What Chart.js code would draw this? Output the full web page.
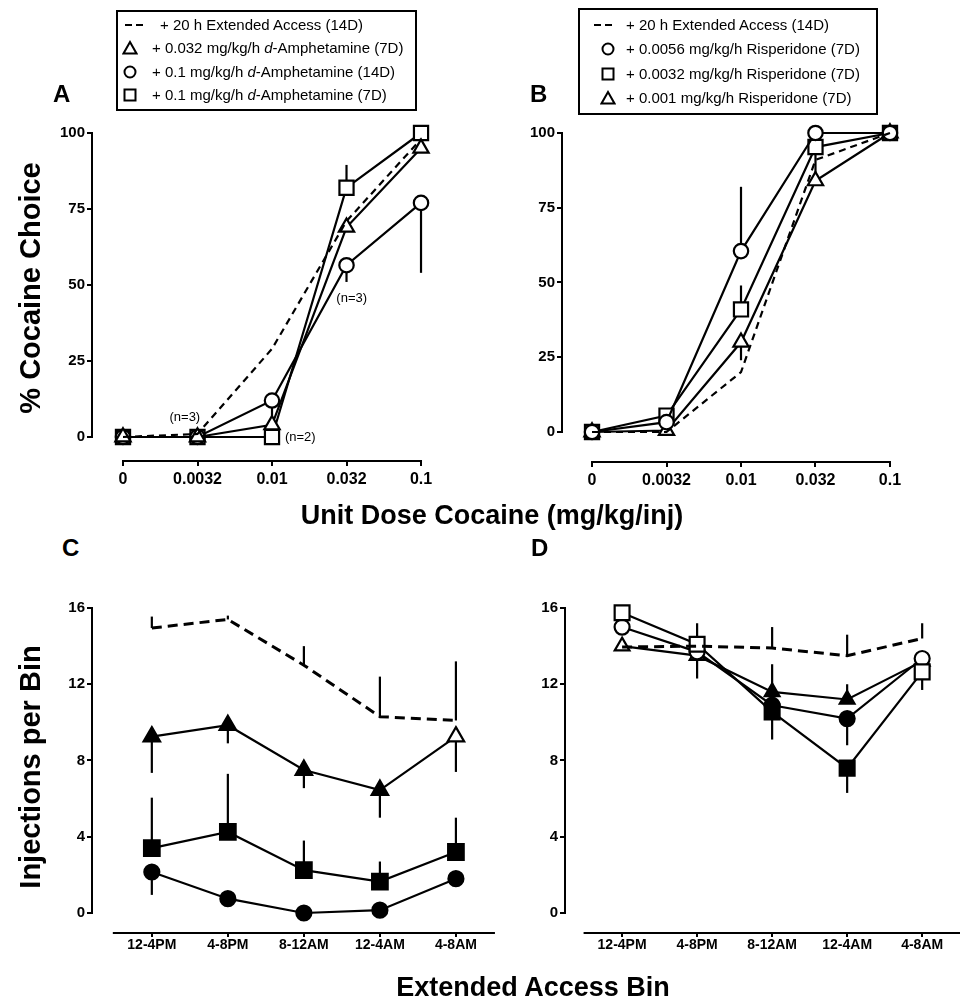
<!DOCTYPE html>
<html>
<head>
<meta charset="utf-8">
<script src="https://cdn.jsdelivr.net/npm/chart.js@4.4.1/dist/chart.umd.min.js"></script>
<style>
  body { margin: 0; background: #fff; font-family: 'Liberation Sans', Arial, sans-serif; color: #000; }
  #page { position: relative; width: 960px; height: 1000px; overflow: hidden; }
  canvas { position: absolute; }
  .lbl { position: absolute; font-weight: bold; font-size: 24px; line-height: 24px; }
  .title { position: absolute; font-weight: bold; font-size: 27px; white-space: nowrap; transform: translate(-50%, -50%); }
  .ytitle { font-size: 29px; transform: translate(-50%, -50%) rotate(-90deg); }
  .box { position: absolute; border: 2px solid #000; box-sizing: border-box; }
  .txt { position: absolute; font-size: 15px; line-height: 18px; white-space: nowrap; }
  .sym { position: absolute; }
</style>
</head>
<body>
<div id="page">
  <canvas id="chartA" width="480" height="430" style="left:0;top:100px"></canvas>
  <canvas id="chartB" width="480" height="430" style="left:480px;top:100px"></canvas>
  <canvas id="chartC" width="525" height="430" style="left:0;top:570px"></canvas>
  <canvas id="chartD" width="470" height="430" style="left:490px;top:570px"></canvas>

  <div class="lbl" style="left:53px;top:82px">A</div>
  <div class="lbl" style="left:530px;top:82px">B</div>
  <div class="lbl" style="left:62px;top:536px">C</div>
  <div class="lbl" style="left:531px;top:536px">D</div>

  <div class="title ytitle" style="left:30px;top:288px">% Cocaine Choice</div>
  <div class="title ytitle" style="left:30px;top:767px">Injections per Bin</div>
  <div class="title" style="left:492px;top:515px">Unit Dose Cocaine (mg/kg/inj)</div>
  <div class="title" style="left:533px;top:987px">Extended Access Bin</div>

  <!-- legend A -->
  <div class="box" style="left:116px;top:10px;width:301px;height:101px"></div>
  <svg class="sym" style="left:124px;top:23px" width="20" height="4"><line x1="1" y1="2" x2="8" y2="2" stroke="#000" stroke-width="2"/><line x1="12" y1="2" x2="19" y2="2" stroke="#000" stroke-width="2"/></svg>
  <div class="txt" style="left:160px;top:16px">+ 20 h Extended Access (14D)</div>
  <svg class="sym" style="left:122px;top:40px" width="16" height="16"><polygon points="8,2 14.5,13.5 1.5,13.5" fill="#fff" stroke="#000" stroke-width="2"/></svg>
  <div class="txt" style="left:152px;top:39px">+ 0.032 mg/kg/h <i>d</i>-Amphetamine (7D)</div>
  <svg class="sym" style="left:122px;top:64px" width="16" height="16"><circle cx="8" cy="8" r="5.5" fill="#fff" stroke="#000" stroke-width="2"/></svg>
  <div class="txt" style="left:152px;top:63px">+ 0.1 mg/kg/h <i>d</i>-Amphetamine (14D)</div>
  <svg class="sym" style="left:122px;top:87px" width="16" height="16"><rect x="2.5" y="2.5" width="11" height="11" fill="#fff" stroke="#000" stroke-width="2"/></svg>
  <div class="txt" style="left:152px;top:86px">+ 0.1 mg/kg/h <i>d</i>-Amphetamine (7D)</div>

  <!-- legend B -->
  <div class="box" style="left:578px;top:8px;width:300px;height:107px"></div>
  <svg class="sym" style="left:593px;top:23px" width="20" height="4"><line x1="1" y1="2" x2="8" y2="2" stroke="#000" stroke-width="2"/><line x1="12" y1="2" x2="19" y2="2" stroke="#000" stroke-width="2"/></svg>
  <div class="txt" style="left:626px;top:16px">+ 20 h Extended Access (14D)</div>
  <svg class="sym" style="left:600px;top:41px" width="16" height="16"><circle cx="8" cy="8" r="5.5" fill="#fff" stroke="#000" stroke-width="2"/></svg>
  <div class="txt" style="left:626px;top:40px">+ 0.0056 mg/kg/h Risperidone (7D)</div>
  <svg class="sym" style="left:600px;top:66px" width="16" height="16"><rect x="2.5" y="2.5" width="11" height="11" fill="#fff" stroke="#000" stroke-width="2"/></svg>
  <div class="txt" style="left:626px;top:65px">+ 0.0032 mg/kg/h Risperidone (7D)</div>
  <svg class="sym" style="left:600px;top:90px" width="16" height="16"><polygon points="8,2 14.5,13.5 1.5,13.5" fill="#fff" stroke="#000" stroke-width="2"/></svg>
  <div class="txt" style="left:626px;top:89px">+ 0.001 mg/kg/h Risperidone (7D)</div>
</div>

<script>
// categories and ticks
const doseLabels = ['0', '0.0032', '0.01', '0.032', '0.1'];
const binLabels = ['12-4PM', '4-8PM', '8-12AM', '12-4AM', '4-8AM'];
const pctTicks = [0, 25, 50, 75, 100];
const injTicks = [0, 4, 8, 12, 16];

// A - % cocaine choice, amphetamine
const eaA = [0, 1, 29, 71, 98];
const amph032A = [0, 0, 4, 69, 95];
const amph1d14A = [0, 0, 12, 56.5, 77];
const amph1d7A = [0, 0, 0, 82, 100];
const amph1d14AErr = [null, null, -6.5, -5.5, -23];
const amph1d7AErr = [null, null, null, 7.5, null];

// B - % cocaine choice, risperidone
const eaB = [0, 0, 20, 91, 100];
const risp0056B = [0, 3.3, 60.5, 100, 100];
const risp0032B = [0, 5.5, 41, 95.3, 100];
const risp001B = [0, 0.5, 30, 84, 100];
const risp0056BErr = [null, null, 21.5, null, null];
const risp0032BErr = [null, null, 8, null, null];
const risp001BErr = [null, null, -6, 9, null];

// C - injections per bin, amphetamine
const eaC = [14.95, 15.4, 13.0, 10.3, 10.1];
const eaCErr = [0.6, 0.2, 1.0, 2.1, 3.1];
const amph032C = [9.25, 9.85, 7.5, 6.45, 9.25];
const amph032CErr = [-1.9, -0.95, -0.95, -1.45, -1.85];
const amph1d7C = [3.4, 4.25, 2.25, 1.65, 3.2];
const amph1d7CErr = [2.65, 3.05, 1.55, 1.05, 1.8];
const amph1d14C = [2.15, 0.75, 0, 0.15, 1.8];
const amph1d14CErr = [-1.2, -0.4, null, null, null];

// D - injections per bin, risperidone
const eaD = [13.95, 14.0, 13.9, 13.5, 14.4];
const eaDErr = [null, null, 1.1, 1.1, 0.8];
const risp0032D = [15.75, 14.1, 10.55, 7.6, 12.65];
const risp0032DErr = [null, 1.1, -1.45, -1.3, -0.95];
const risp0056D = [15.0, 13.7, 10.9, 10.2, 13.35];
const risp0056DErr = [null, null, null, -1.4, null];
const risp001D = [14.0, 13.5, 11.6, 11.2, 13.2];
const risp001DErr = [null, -1.2, 1.45, 0.8, null];

Chart.defaults.font.family = "'Liberation Sans', Arial, sans-serif";
Chart.defaults.color = '#000';

function series(values, err, style) {
  return Object.assign({
    data: values.map((y, x) => ({ x, y })),
    err: err,
    borderColor: '#000',
    borderWidth: 2.2,
    tension: 0,
    pointBorderColor: '#000',
    pointBorderWidth: 2.2,
    pointBackgroundColor: '#fff',
    clip: false
  }, style);
}

function makeChart(id, o) {
  const errorBars = {
    id: 'errorBars',
    beforeDatasetsDraw(chart) {
      const { ctx, scales: { x, y } } = chart;
      ctx.save();
      ctx.lineWidth = 2.2;
      ctx.strokeStyle = '#000';
      chart.data.datasets.forEach(ds => {
        if (!ds.err) return;
        ds.err.forEach((e, i) => {
          if (e == null) return;
          const v = ds.data[i].y;
          const px = x.getPixelForValue(i);
          ctx.beginPath();
          ctx.moveTo(px, y.getPixelForValue(v));
          ctx.lineTo(px, y.getPixelForValue(v + e));
          ctx.stroke();
        });
      });
      ctx.restore();
    }
  };
  // detached prism style axes
  const axes = {
    id: 'prismAxes',
    afterDraw(chart) {
      const { ctx, chartArea, scales: { x, y } } = chart;
      ctx.save();
      ctx.lineWidth = 2;
      ctx.strokeStyle = '#000';
      ctx.beginPath();
      ctx.moveTo(chartArea.left, y.getPixelForValue(o.yTicks[0]) + 1);
      ctx.lineTo(chartArea.left, y.getPixelForValue(o.yTicks[o.yTicks.length - 1]) - 1);
      ctx.moveTo(x.getPixelForValue(o.axisX[0]) - 1, chartArea.bottom);
      ctx.lineTo(x.getPixelForValue(o.axisX[1]) + 1, chartArea.bottom);
      ctx.stroke();
      ctx.restore();
    }
  };
  const notes = {
    id: 'notes',
    afterDatasetsDraw(chart) {
      const { ctx, scales: { x, y } } = chart;
      ctx.save();
      ctx.font = "13px 'Liberation Sans', Arial, sans-serif";
      ctx.fillStyle = '#000';
      ctx.textAlign = 'center';
      ctx.textBaseline = 'middle';
      (o.notes || []).forEach(n => ctx.fillText(n.text, x.getPixelForValue(n.x), y.getPixelForValue(n.y)));
      ctx.restore();
    }
  };
  const grid = { drawOnChartArea: false, tickLength: 5, lineWidth: 2, color: '#000' };
  return new Chart(document.getElementById(id), {
    type: 'line',
    data: { datasets: o.datasets },
    options: {
      responsive: false,
      animation: false,
      devicePixelRatio: 1,
      layout: { padding: o.pad },
      plugins: { legend: { display: false }, tooltip: { enabled: false } },
      scales: {
        x: {
          type: 'linear', min: o.xMin, max: o.xMax,
          afterBuildTicks: s => { s.ticks = o.xLabels.map((_, i) => ({ value: i })); },
          afterFit: s => { s.height = o.xH; },
          ticks: { callback: v => o.xLabels[v], font: o.xFont, color: '#000', padding: o.xPad, maxRotation: 0, autoSkip: false },
          grid: Object.assign({}, grid, { tickLength: o.xTick }),
          border: { display: false }
        },
        y: {
          min: o.yMin, max: o.yMax,
          afterBuildTicks: s => { s.ticks = o.yTicks.map(v => ({ value: v })); },
          afterFit: s => { s.width = o.yW; },
          ticks: { font: { size: 15, weight: 'bold' }, color: '#000', padding: 2, autoSkip: false },
          grid: grid,
          border: { display: false }
        }
      }
    },
    plugins: [errorBars, axes, notes]
  });
}

const dashAB = { pointRadius: 0, borderDash: [7, 5] };
const dashCD = { pointRadius: 0, borderDash: [10, 6], borderWidth: 3 };

makeChart('chartA', {
  xLabels: doseLabels, yTicks: pctTicks,
  xMin: -0.416, xMax: 4.389, yMin: -7.9, yMax: 103.95,
  yW: 92, xH: 40, xTick: 5, xPad: 4, xFont: { size: 16, weight: 'bold' },
  pad: { top: 21, bottom: 29, left: 0, right: 30 },
  axisX: [0, 4],
  notes: [{ text: '(n=3)', x: 0.83, y: 6.6 }, { text: '(n=2)', x: 2.38, y: 0 }, { text: '(n=3)', x: 3.07, y: 45.7 }],
  datasets: [
    series(eaA, null, dashAB),
    series(amph032A, null, { pointStyle: 'triangle', pointRadius: 8.8 }),
    series(amph1d14A, amph1d14AErr, { pointStyle: 'circle', pointRadius: 7.2 }),
    series(amph1d7A, amph1d7AErr, { pointStyle: 'rect', pointRadius: 10 })
  ]
});

makeChart('chartB', {
  xLabels: doseLabels, yTicks: pctTicks,
  xMin: -0.403, xMax: 4.403, yMin: -10.03, yMax: 104.01,
  yW: 82, xH: 40, xTick: 5, xPad: 4, xFont: { size: 16, weight: 'bold' },
  pad: { top: 21, bottom: 28, left: 0, right: 40 },
  axisX: [0, 4],
  datasets: [
    series(eaB, null, dashAB),
    series(risp0056B, risp0056BErr, { pointStyle: 'circle', pointRadius: 7.2 }),
    series(risp0032B, risp0032BErr, { pointStyle: 'rect', pointRadius: 10 }),
    series(risp001B, risp001BErr, { pointStyle: 'triangle', pointRadius: 8.8 })
  ]
});

makeChart('chartC', {
  xLabels: binLabels, yTicks: injTicks,
  xMin: -0.787, xMax: 4.735, yMin: -1.049, yMax: 16.944,
  yW: 92, xH: 35, xTick: 4, xPad: 0, xFont: { size: 14, weight: 'bold' },
  pad: { top: 20, bottom: 32, left: 0, right: 5 },
  axisX: [-0.5, 4.5],
  datasets: [
    series(eaC, eaCErr, dashCD),
    series(amph032C, amph032CErr, { pointStyle: 'triangle', pointRadius: 9.5, pointBackgroundColor: ['#000', '#000', '#000', '#000', '#fff'] }),
    series(amph1d7C, amph1d7CErr, { pointStyle: 'rect', pointRadius: 11, pointBackgroundColor: '#000' }),
    series(amph1d14C, amph1d14CErr, { pointStyle: 'circle', pointRadius: 7.5, pointBackgroundColor: '#000' })
  ]
});

const fillD = ['#fff', '#fff', '#000', '#000', '#fff'];
makeChart('chartD', {
  xLabels: binLabels, yTicks: injTicks,
  xMin: -0.761, xMax: 4.335, yMin: -1.049, yMax: 16.944,
  yW: 75, xH: 35, xTick: 4, xPad: 0, xFont: { size: 14, weight: 'bold' },
  pad: { top: 20, bottom: 32, left: 0, right: 0 },
  axisX: [-0.5, 4.5],
  datasets: [
    series(eaD, eaDErr, dashCD),
    series(risp0032D, risp0032DErr, { pointStyle: 'rect', pointRadius: 10.5, pointBackgroundColor: fillD }),
    series(risp0056D, risp0056DErr, { pointStyle: 'circle', pointRadius: 7.5, pointBackgroundColor: fillD }),
    series(risp001D, risp001DErr, { pointStyle: 'triangle', pointRadius: 8.5, pointBackgroundColor: fillD })
  ]
});
</script>
</body>
</html>
